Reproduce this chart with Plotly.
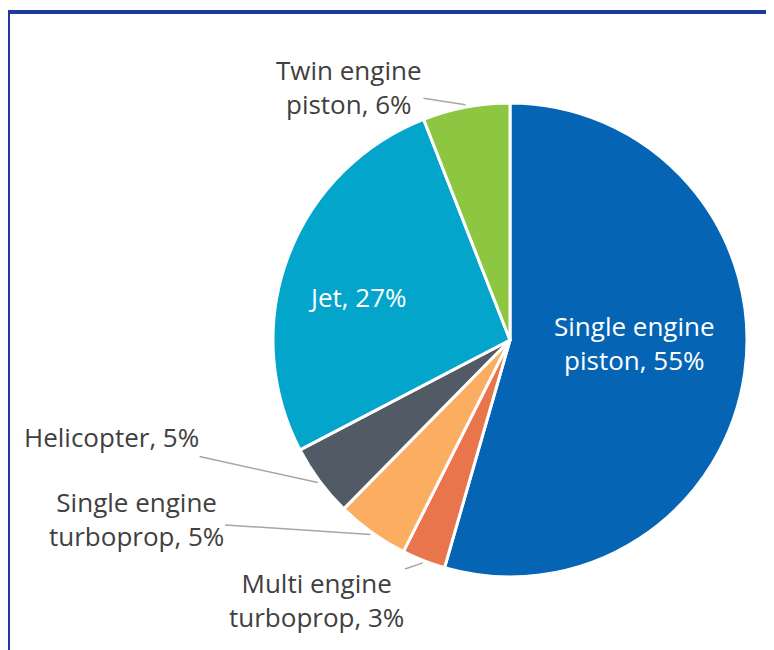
import math
import plotly.graph_objects as go

labels = ["Single engine piston", "Multi engine turboprop", "Single engine turboprop",
          "Helicopter", "Jet", "Twin engine piston"]
values = [55, 3, 5, 5, 27, 6]
colors = ["#0565B4", "#E9754C", "#FBAE62", "#525A66", "#03A5CB", "#8DC641"]
label_text = ["Single engine<br>piston, 55%", "Multi engine<br>turboprop, 3%",
              "Single engine<br>turboprop, 5%", "Helicopter, 5%", "Jet, 27%",
              "Twin engine<br>piston, 6%"]

W, H = 774, 650
OFF = 8  # default page body margin
CX, CY, R = 510, 340, 237


def px2paper(px, py):
    return (px - OFF) / W, 1 - (py - OFF) / H


fig = go.Figure()
x0, y1 = px2paper(CX - R, CY - R)
x1, y0 = px2paper(CX + R, CY + R)
fig.add_trace(go.Pie(
    labels=labels, values=values, sort=False, direction="clockwise", rotation=0,
    marker=dict(colors=colors, line=dict(color="white", width=3)),
    textinfo="none", hoverinfo="label+percent", showlegend=False,
    domain=dict(x=[x0, x1], y=[y0, y1]),
))

total = sum(values)
cum = 0
mids = []
for v in values:
    mids.append((cum + v / 2) / total * 2 * math.pi)
    cum += v

FAM = "Open Sans, Noto Sans, sans-serif"
font_out = dict(family=FAM, size=26, color="#404040")
font_in = dict(family=FAM, size=26, color="white")

inside = {0: (634, 343), 4: (357, 297)}
for i, (px, py) in inside.items():
    x, y = px2paper(px, py)
    fig.add_annotation(x=x, y=y, xref="paper", yref="paper", text=label_text[i],
                       xanchor="center", yanchor="middle",
                       showarrow=False, font=font_in, align="center")

outside = {5: (349, 87), 3: (111, 437), 2: (136, 519), 1: (316, 600)}
for i, (tx, ty) in outside.items():
    a = mids[i]
    tipx = CX + R * 1.01 * math.sin(a)
    tipy = CY - R * 1.01 * math.cos(a)
    x, y = px2paper(tipx, tipy)
    fig.add_annotation(x=x, y=y, xref="paper", yref="paper", text=label_text[i],
                       showarrow=True, arrowhead=0, arrowwidth=1.5, arrowcolor="#A6A6A6",
                       ax=tx - tipx, ay=ty - tipy, font=font_out, align="center")

fx, fy = px2paper(8, 12)
fig.add_shape(type="line", xref="paper", yref="paper", x0=fx - 0.003, x1=1.05, y0=fy, y1=fy,
              line=dict(color="#1E3A9E", width=4))
fig.add_shape(type="line", xref="paper", yref="paper", x0=fx, x1=fx, y0=fy, y1=-0.05,
              line=dict(color="#1E3A9E", width=4))

fig.update_layout(width=W, height=H, margin=dict(l=0, r=0, t=0, b=0),
                  paper_bgcolor="white", plot_bgcolor="white")
fig.write_html("out.html")
